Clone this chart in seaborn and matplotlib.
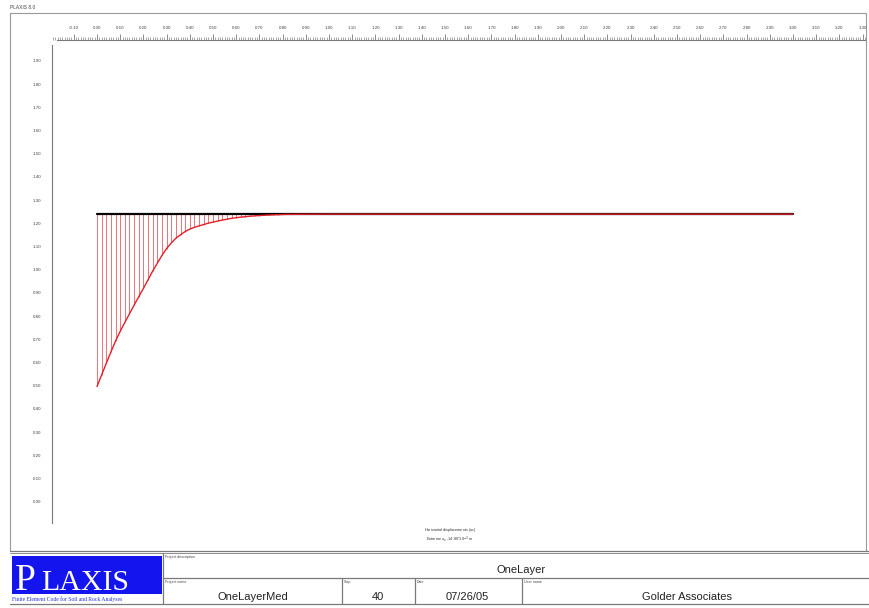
import numpy as np
import pandas as pd
import matplotlib
matplotlib.use("Agg")
import matplotlib.pyplot as plt
import seaborn as sns
from matplotlib.ticker import MultipleLocator, FormatStrFormatter
from matplotlib.patches import Rectangle

# ---------------- data ----------------
node_x = [0.00, 0.02, 0.04, 0.06, 0.08, 0.10, 0.12, 0.14, 0.16, 0.18,
          0.20, 0.22, 0.24, 0.26, 0.28, 0.30, 0.32, 0.34, 0.36, 0.38,
          0.40, 0.42, 0.44, 0.46, 0.48, 0.50, 0.52, 0.54, 0.56, 0.58,
          0.60, 0.62, 0.64, 0.66, 0.68, 0.70, 0.72, 0.74, 0.76, 0.78,
          0.80, 0.82, 0.84, 0.86, 0.88, 1.00, 1.25, 1.50, 1.75, 2.00,
          2.25, 2.50, 2.75, 3.00]
ux_mm = [14.86, 13.86, 12.86, 11.88, 10.94, 10.10, 9.34, 8.59, 7.84, 7.12,
         6.41, 5.66, 4.91, 4.23, 3.56, 2.97, 2.49, 2.08, 1.78, 1.50,
         1.29, 1.14, 1.01, 0.90, 0.78, 0.69, 0.60, 0.51, 0.44, 0.36,
         0.31, 0.26, 0.22, 0.18, 0.15, 0.12, 0.10, 0.08, 0.06, 0.05,
         0.03, 0.02, 0.02, 0.01, 0.01, 0.00, 0.00, 0.00, 0.00, 0.00,
         0.00, 0.00, 0.00, 0.00]
beam_x = [0.0, 3.0]
beam_level = 1.24          # y of the plate in geometry (m)

title_version = "PLAXIS 8.0"
project_description = "OneLayer"
project_name = "OneLayerMed"
step_value = "40"
date_value = "07/26/05"
user_name = "Golder Associates"
caption_1 = "Horizontal displacements (u$_x$)"
caption_2 = "Extreme u$_x$ -14.86*10$^{-3}$ m"

# ---------------- style ----------------
disp_scale = 0.05          # m of drawing per mm of displacement
W, H = 869, 608
sns.set_style("white")
plt.rcParams["font.family"] = ["Liberation Sans", "DejaVu Sans"]

fig = plt.figure(figsize=(W / 100, H / 100), dpi=100)

# pixel overlay for frame & title block
ov = fig.add_axes([0, 0, 1, 1])
ov.set_xlim(0, W)
ov.set_ylim(H, 0)
ov.axis("off")

def px_ax(l, t, r, b):
    return [l / W, 1 - b / H, (r - l) / W, (b - t) / H]

# main drawing axes (pixel box 52..865 x 40..523)
ax = fig.add_axes(px_ax(52, 40, 865, 523))
ppm = 232.0
x0_px = 97.0
ax.set_xlim((52 - x0_px) / ppm, (865 - x0_px) / ppm)
y_top_label = 1.90
ax.set_ylim(y_top_label - (523 - 61) / ppm, y_top_label + (61 - 40) / ppm)
ax.set_facecolor("none")

df = pd.DataFrame({"x": node_x, "ux": ux_mm})
df["y"] = beam_level - df["ux"] * disp_scale

# hatch lines
hatch = df[df["ux"] > 0]
ax.vlines(hatch["x"], beam_level, hatch["y"], colors="#f07078", linewidth=0.7)
# plate
ax.plot(beam_x, [beam_level, beam_level], color="black", lw=1.6, zorder=3)
# displacement curve
sns.lineplot(data=df, x="x", y="y", ax=ax, color="#e0202a", lw=1.0,
             sort=False, estimator=None, zorder=4)
ax.set_xlabel("")
ax.set_ylabel("")

# rulers
for s in ["bottom", "right"]:
    ax.spines[s].set_visible(False)
gray = "#7a7a7a"
ax.spines["top"].set_color(gray)
ax.spines["left"].set_color(gray)
ax.spines["top"].set_linewidth(0.8)
ax.spines["left"].set_linewidth(0.8)
ax.spines["top"].set_bounds((57 - x0_px) / ppm, (865 - x0_px) / ppm)
ax.spines["left"].set_bounds(y_top_label - (523 - 61) / ppm,
                             y_top_label + (61 - 45) / ppm)
ax.xaxis.tick_top()
ax.xaxis.set_major_locator(MultipleLocator(0.10))
ax.xaxis.set_minor_locator(MultipleLocator(0.01))
ax.yaxis.set_major_locator(MultipleLocator(0.10))
ax.yaxis.set_minor_locator(MultipleLocator(0.01))
ax.xaxis.set_major_formatter(FormatStrFormatter("%.2f"))
ax.yaxis.set_major_formatter(FormatStrFormatter("%.2f"))
ax.tick_params(axis="both", which="major", direction="out", length=4.5,
               width=0.6, color=gray, labelsize=3.2, labelcolor="#444444", pad=3)
ax.tick_params(axis="both", which="minor", direction="out", length=2.2,
               width=0.45, color=gray)
ax.tick_params(axis="x", top=True, bottom=False, labeltop=True, labelbottom=False)

# captions under drawing
ov.text(450, 530, caption_1, ha="center", va="center", fontsize=2.8, color="#333333")
ov.text(450, 539, caption_2, ha="center", va="center", fontsize=2.8, color="#333333")

# outer frame and header
ov.text(10, 10, title_version, fontsize=3.5, color="#444444", va="bottom")
ov.plot([10, 866, 866], [13, 13, 551], color="#9a9a9a", lw=0.8)
ov.plot([10, 10], [13, 551], color="#9a9a9a", lw=0.8)

# title block
line_c = "#7a7a7a"
ov.plot([10, W], [551, 551], color=line_c, lw=0.9)
ov.plot([10, W], [553, 553], color=line_c, lw=0.6)
ov.plot([163, W], [578, 578], color=line_c, lw=0.9)
ov.plot([10, W], [604, 604], color=line_c, lw=0.9)
ov.plot([163, 163], [553, 604], color=line_c, lw=0.9)
for xv in [342, 415, 522]:
    ov.plot([xv, xv], [578, 604], color=line_c, lw=0.9)

ov.add_patch(Rectangle((12, 556), 150, 38, facecolor="#1414ee", edgecolor="none"))
ov.text(15, 590, "P", fontsize=27, color="white", family="Liberation Serif",
        va="baseline")
ov.text(41, 590, "LAXIS", fontsize=21.5, color="white", family="Liberation Serif",
        va="baseline")
ov.text(12, 599, "Finite Element Code for Soil and Rock Analyses", fontsize=4.1,
        color="#2030d0", family="Liberation Serif", va="center")

small = dict(fontsize=2.6, color="#444444", va="top")
ov.text(165, 555, "Project description", **small)
ov.text(165, 580, "Project name", **small)
ov.text(344, 580, "Step", **small)
ov.text(417, 580, "Date", **small)
ov.text(524, 580, "User name", **small)

big = dict(fontsize=8, color="#222222", ha="center", va="center")
ov.text(521, 570, project_description, **big)
ov.text(253, 597, project_name, **big)
ov.text(378, 597, step_value, **big)
ov.text(467, 597, date_value, **big)
ov.text(687, 597, user_name, **big)

fig.savefig("out.png", dpi=100)
